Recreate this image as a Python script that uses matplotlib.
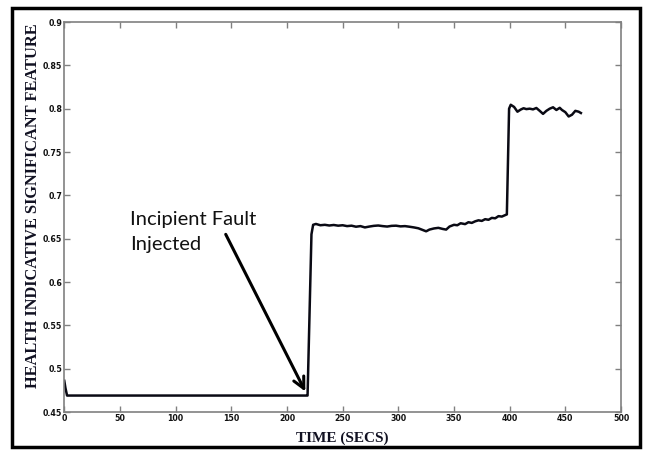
import matplotlib
matplotlib.use("Agg")
import matplotlib.pyplot as plt
from matplotlib.patches import Rectangle

# Health feature trace (time in seconds, feature value)
time_s = [0, 1, 2.5, 10, 50, 100, 150, 200, 217, 218.5, 222, 223.5,
          226, 230, 234, 238, 242, 246, 250, 254, 258, 262, 266, 270, 274,
          278, 282, 286, 290, 294, 298, 302, 306, 310, 314, 318, 322, 325,
          328, 332, 336, 340, 343, 346, 350, 353, 356, 360, 363, 366, 369,
          372, 375, 378, 381, 384, 387, 390, 393, 396, 397.5, 399.5, 401,
          404, 407, 410, 412.5, 415, 418, 421, 424, 427, 430, 433, 436, 439,
          442, 445, 447, 450, 453, 456, 459, 462, 464]
feature = [0.486, 0.478, 0.469, 0.469, 0.469, 0.469, 0.469, 0.469, 0.469,
           0.469, 0.655, 0.666,
           0.667, 0.6655, 0.6660, 0.6652, 0.6658, 0.6650, 0.6655, 0.6645,
           0.6650, 0.6638, 0.6645, 0.6630, 0.6640, 0.6648, 0.6652, 0.6645,
           0.6640, 0.6648, 0.6650, 0.6642, 0.6645, 0.6638, 0.6630, 0.6620,
           0.6600, 0.6585, 0.6605, 0.6618, 0.6625, 0.6612, 0.6605, 0.6640,
           0.6660, 0.6655, 0.6678, 0.6668, 0.6690, 0.6682, 0.6700, 0.6712,
           0.6705, 0.6725, 0.6718, 0.6740, 0.6735, 0.6760, 0.6755, 0.6772,
           0.678, 0.800, 0.8045, 0.8020, 0.7965, 0.7990, 0.8005, 0.7995,
           0.8000, 0.7992, 0.8008, 0.7975, 0.7940, 0.7975, 0.8000, 0.8016,
           0.7985, 0.8010, 0.7985, 0.7960, 0.7910, 0.7930, 0.7975, 0.7965,
           0.7950]

x_ticks = [0, 50, 100, 150, 200, 250, 300, 350, 400, 450, 500]
y_ticks = [0.45, 0.5, 0.55, 0.6, 0.65, 0.7, 0.75, 0.8, 0.85, 0.9]
y_tick_labels = ["0.45", "0.5", "0.55", "0.6", "0.65", "0.7", "0.75", "0.8", "0.85", "0.9"]

annotation_text = "Incipient Fault\nInjected"
annotation_xy = (216.5, 0.4737)
annotation_text_xy = (145, 0.655)

fig = plt.figure(figsize=(6.48, 4.5), dpi=100)
ax = fig.add_axes([0.0992, 0.0844, 0.8591, 0.8667])

ax.plot(time_s, feature, color="#0a0a14", linewidth=1.8, solid_joinstyle="round")

ax.set_xlim(0, 500)
ax.set_ylim(0.45, 0.9)
ax.set_xticks(x_ticks)
ax.set_yticks(y_ticks)
ax.set_yticklabels(y_tick_labels)

for lbl in ax.get_xticklabels() + ax.get_yticklabels():
    lbl.set_fontfamily(["DejaVu Sans"])
    lbl.set_fontstretch("condensed")
    lbl.set_fontweight("bold")
    lbl.set_fontsize(6.3)
    lbl.set_color("#111111")

ax.tick_params(direction="in", length=4, width=1, color="#808080",
               top=True, right=True, pad=1.5)
for sp in ax.spines.values():
    sp.set_color("#808080")
    sp.set_linewidth(1.2)

ax.set_xlabel("TIME (SECS)", fontfamily=["Liberation Serif"], fontweight="bold",
              fontsize=11, color="#111122", labelpad=6)
ax.set_ylabel("HEALTH INDICATIVE SIGNIFICANT FEATURE", fontfamily=["Liberation Serif"],
              fontweight="bold", fontsize=11.8, color="#111122")
ax.yaxis.set_label_coords(-0.042, 0.53)

ax.annotate("", xy=annotation_xy, xytext=annotation_text_xy,
            arrowprops=dict(arrowstyle="->", color="black", lw=2.2,
                            mutation_scale=20, shrinkA=0, shrinkB=0))
ax.text(59, 0.637, annotation_text, fontfamily=["Lato", "DejaVu Sans"],
        fontsize=14.5, color="#111111", ha="left", va="baseline", linespacing=1.6)

# outer frame around the whole figure
fig.patches.append(Rectangle((12 / 648, 3 / 450), 628 / 648, 439 / 450,
                             transform=fig.transFigure, fill=False,
                             edgecolor="black", linewidth=2.5))

fig.savefig("out.png", dpi=100)
